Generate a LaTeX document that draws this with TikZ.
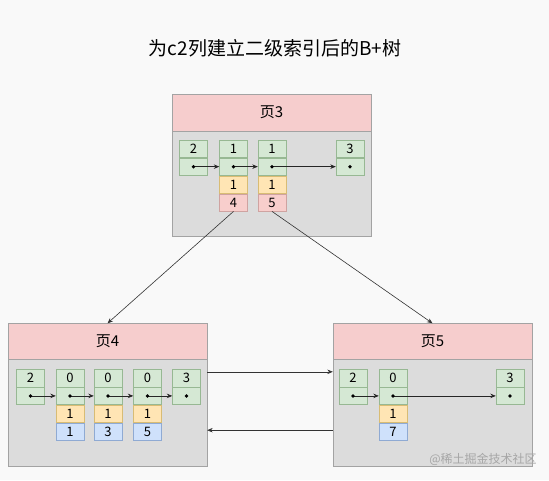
\documentclass[tikz,border=0pt]{standalone}
\usepackage{fontspec}
\newfontfamily\cjk{Noto Sans CJK SC}
\usepackage{xcolor}
\usetikzlibrary{arrows.meta,positioning}
\definecolor{bgcol}{HTML}{F9F9F9}
\definecolor{pagegray}{HTML}{DCDCDC}
\definecolor{pageline}{HTML}{A3A3A3}
\definecolor{headpink}{HTML}{F6CDCD}
\definecolor{grfill}{HTML}{D5E8D4}
\definecolor{grline}{HTML}{97B893}
\definecolor{yefill}{HTML}{FFE5B4}
\definecolor{yeline}{HTML}{D8BC74}
\definecolor{pkfill}{HTML}{F8CECC}
\definecolor{pkline}{HTML}{CFA3A1}
\definecolor{blfill}{HTML}{CFE1FB}
\definecolor{blline}{HTML}{8FAAD3}

\begin{document}
\begin{tikzpicture}[x=1pt, y=-1pt, >={Stealth[length=5.5pt,width=4.5pt]},
 every node/.style={font=\cjk},
 head/.style={draw=pageline, fill=headpink, minimum width=199pt, minimum height=36pt,
  inner sep=0pt, font=\cjk\fontsize{15}{15}\selectfont},
 body/.style={draw=pageline, fill=pagegray, minimum width=199pt, inner sep=0pt},
 key/.style={draw=grline, fill=grfill, minimum width=28pt, minimum height=17.5pt,
  inner sep=0pt, font=\cjk\fontsize{13}{13}\selectfont},
 ptr/.style={key, below=0pt of #1},
 cone/.style={key, draw=yeline, fill=yefill, below=0pt of #1},
 pkred/.style={key, draw=pkline, fill=pkfill, below=0pt of #1},
 pkblue/.style={key, draw=blline, fill=blfill, below=0pt of #1},
 link/.style={->, draw=black!85, line width=0.7pt},
 edge/.style={->, draw=black!80, line width=0.6pt}]
\fill[bgcol] (0,0) rectangle (549,480);
\useasboundingbox (0,0) rectangle (549,480);

\node[font=\cjk\fontsize{19}{19}\selectfont] (title) at (275,48) {为c2列建立二级索引后的B+树};

% page 3
\node[head, minimum height=37pt] (p3head) at (271.5,112.5) {页3};
\node[body, minimum height=105pt] (p3body) at (271.5,183.5) {};
\node[key] (a1) at (193.5,148.75) {2};
\node[key] (b1) at (233.5,148.75) {1};
\node[key] (c1) at (272,148.75) {1};
\node[key] (d1) at (350,148.75) {3};
\node[ptr=a1] (a2) {};
\node[ptr=b1] (b2) {};
\node[ptr=c1] (c2) {};
\node[ptr=d1] (d2) {};
\node[cone=b2] (b3) {1};
\node[cone=c2] (c3) {1};
\node[pkred=b3] (b4) {4};
\node[pkred=c3] (c4) {5};

% page 4
\node[head] (p4head) at (107.5,341.5) {页4};
\node[body, minimum height=107pt] (p4body) at (107.5,412.5) {};
\node[key] (e1) at (30.5,378) {2};
\node[key] (f1) at (70,378) {0};
\node[key] (g1) at (108,378) {0};
\node[key] (h1) at (147.5,378) {0};
\node[key] (i1) at (186.5,378) {3};
\foreach \n in {e,f,g,h,i} \node[ptr=\n1] (\n2) {};
\foreach \n/\v in {f/1,g/3,h/5} {
  \node[cone=\n2] (\n3) {1};
  \node[pkblue=\n3] (\n4) {\v};
}

% page 5
\node[head] (p5head) at (432.5,341.5) {页5};
\node[body, minimum height=107pt] (p5body) at (432.5,412.5) {};
\node[key] (j1) at (353,378) {2};
\node[key] (k1) at (393,378) {0};
\node[key] (l1) at (510,378) {3};
\foreach \n in {j,k,l} \node[ptr=\n1] (\n2) {};
\node[cone=k2] (k3) {1};
\node[pkblue=k3] (k4) {7};

% record links
\foreach \s/\t in {a/b,b/c,c/d,e/f,f/g,g/h,h/i,j/k,k/l}
  \draw[link] (\s2.center) -- (\t2.west);
\foreach \n in {a,b,c,d,e,f,g,h,i,j,k,l}
  \fill[black] (\n2.center) circle (1.9pt);

% tree and page links
\draw[edge] (b4.south) -- (p4head.north);
\draw[edge] (c4.south) -- (p5head.north);
\draw[edge] ([yshift=-13pt]p4body.north east) -- ([yshift=-13pt]p5body.north west);
\draw[edge] ([yshift=36pt]p5body.south west) -- ([yshift=36pt]p4body.south east);

\node[text=black!35, font=\cjk\fontsize{12}{12}\selectfont] (mark) at (483,459) {@稀土掘金技术社区};
\end{tikzpicture}
\end{document}
